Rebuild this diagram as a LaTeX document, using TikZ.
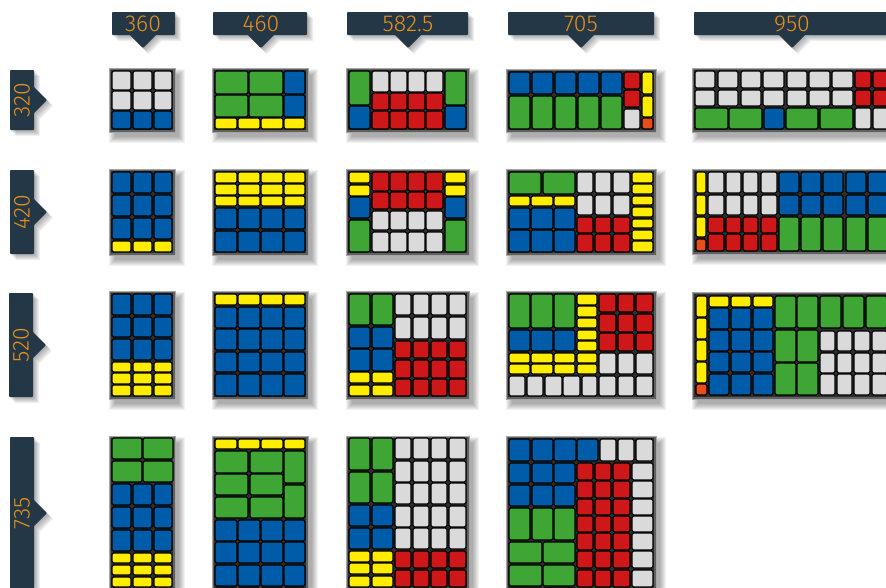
\documentclass[tikz,border=0pt]{standalone}
\usepackage{fontspec}
\newfontfamily\tabfont{Fira Sans Light}
\definecolor{cgrey}{HTML}{DADADA}
\definecolor{cblue}{HTML}{005CA9}
\definecolor{cgreen}{HTML}{3FA535}
\definecolor{cred}{HTML}{CD1719}
\definecolor{cyel}{HTML}{FFED00}
\definecolor{corg}{HTML}{E84E1B}
\definecolor{tabnavy}{HTML}{243746}
\definecolor{taborange}{HTML}{E8901A}
\tikzset{
  cellbox/.style={draw=black, line width=1.1pt, rounded corners=1.6pt},
  panelbox/.style={fill=black!82, draw=black!62, line width=1.6pt},
  paneledge/.style={draw=black!35, line width=0.5pt},
  tabtext/.style={text=taborange, font=\tabfont\fontsize{23}{23}\selectfont, inner sep=0pt},
}
\newcommand\cel[5]{\draw[cellbox,fill=#5] (#1,#2) rectangle (#3,#4);}
\newcommand\grd[3]{\foreach \xa/\xb in {#1}{\foreach \ya/\yb in {#2}{\cel{\xa}{\ya}{\xb}{\yb}{#3}}}}
\newcommand\pnl[4]{%
  \foreach \r in {0,1,2,3,4,5,6}{\fill[black,opacity=.05] ({#1+5-\r},{#2+6-\r}) rectangle ({#3+5+\r},{#4+6+\r});}
  \draw[panelbox] (#1,#2) rectangle (#3,#4);
  \draw[paneledge] ({#1-0.9},{#2-0.9}) rectangle ({#3+0.9},{#4+0.9});}
\newcommand\coltab[5]{%
  \foreach \s in {1,2,3,4,5,6}{\fill[black,opacity=.06,xshift=\s pt,yshift=-\s pt]
    (#1,12) -- (#2,12) -- (#2,35) -- ({#3+13},35) -- (#3,48) -- ({#3-13},35) -- (#1,35) -- cycle;}
  \fill[tabnavy,rounded corners=0.8pt] (#1,12) -- (#2,12) -- (#2,35) -- ({#3+13},35) -- (#3,48) -- ({#3-13},35) -- (#1,35) -- cycle;
  \node[tabtext] (#4) at (#3,23.5) {#5};}
\newcommand\rowtab[6]{%
  \foreach \s in {1,2,3,4,5,6}{\fill[black,opacity=.06,xshift=\s pt,yshift=-\s pt]
    (#1,#3) -- (#2,#3) -- (#2,{#5-13}) -- ({#2+13},#5) -- (#2,{#5+13}) -- (#2,#4) -- (#1,#4) -- cycle;}
  \fill[tabnavy,rounded corners=0.8pt] (#1,#3) -- (#2,#3) -- (#2,{#5-13}) -- ({#2+13},#5) -- (#2,{#5+13}) -- (#2,#4) -- (#1,#4) -- cycle;
  \node[tabtext,rotate=90] (r#6) at ({(#1+#2)/2},#5) {#6};}
\begin{document}
\begin{tikzpicture}[x=1pt,y=-1pt]
\useasboundingbox (0,0) rectangle (886,587);
\clip (0,0) rectangle (886,587);
\fill[white] (0,0) rectangle (886,587);
% column tabs
\coltab{112}{175}{143}{c360}{360}
\coltab{213}{307}{261}{c460}{460}
\coltab{347}{468}{408}{c582}{582.5}
\coltab{508}{654}{581}{c705}{705}
\coltab{694}{900}{792}{c950}{950}
% row tabs
\rowtab{10}{34}{70}{130}{100}{320}
\rowtab{10}{34}{170}{254}{212}{420}
\rowtab{9}{33}{293}{397}{345}{520}
\rowtab{10}{34}{437}{620}{513}{735}
% ===== row 320 =====
\pnl{110}{69}{174}{131}
\grd{112/131,133/152,154/172}{71/90,91/110}{cgrey}
\grd{112/131,133/152,154/172}{111/129}{cblue}
\pnl{213}{69}{307}{131}
\grd{215/248,249/283}{71/94,95/117}{cgreen}
\grd{284/305}{71/94,95/117}{cblue}
\grd{215/237,238/260,261/283,284/305}{118/129}{cyel}
\pnl{347}{69}{468}{131}
\grd{349/370,445/466}{71/105}{cgreen}
\grd{349/370,445/466}{106/129}{cblue}
\grd{372/389,390/407,408/425,426/443}{71/92}{cgrey}
\grd{372/389,390/407,408/425,426/443}{93/110,111/129}{cred}
\pnl{507}{70}{655}{131}
\grd{509/530,532/553,555/576,578/599,601/622}{72/94}{cblue}
\grd{509/530,532/553,555/576,578/599,601/622}{96/129}{cgreen}
\grd{624/640}{72/89,90/107}{cred}
\grd{624/640}{109/129}{cgrey}
\grd{642/653}{72/94,96/117}{cyel}
\grd{642/653}{118/129}{corg}
\pnl{693}{69}{910}{131}
\grd{695/715,718/738,741/761,763/784,787/807,809/830,832/853}{71/88,90/106}{cgrey}
\grd{855/871,873/889}{71/88,90/106}{cred}
\grd{695/728,729/762,786/818,820/853}{108/129}{cgreen}
\grd{764/784}{108/129}{cblue}
\grd{855/871,873/889}{108/129}{cgrey}
% ===== row 420 =====
\pnl{110}{170}{174}{254}
\grd{112/131,133/152,154/172}{172/193,195/216,218/239}{cblue}
\grd{112/131,133/152,154/172}{241/252}{cyel}
\pnl{213}{170}{307}{254}
\grd{215/237,238/260,261/283,284/305}{172/183,184/195,196/206}{cyel}
\grd{215/237,238/260,261/283,284/305}{208/229,231/252}{cblue}
\pnl{347}{170}{468}{254}
\grd{349/370,445/466}{172/183,185/196}{cyel}
\grd{349/370,445/466}{197/218}{cblue}
\grd{349/370,445/466}{220/252}{cgreen}
\grd{372/389,390/407,408/425,426/443}{172/191,192/209}{cred}
\grd{372/389,390/407,408/425,426/443}{211/230,232/252}{cgrey}
\pnl{507}{170}{655}{254}
\grd{509/541,543/575}{172/194}{cgreen}
\grd{509/530,531/553,554/575}{196/206}{cyel}
\grd{509/530,531/553,554/575}{208/229,230/252}{cblue}
\grd{577/593,595/611,613/630}{172/193,195/215}{cgrey}
\grd{577/593,595/611,613/630}{217/233,234/252}{cred}
\grd{632/653}{172/183,184/194,196/205,207/217,219/228,230/240,241/252}{cyel}
\pnl{693}{170}{910}{253}
\grd{696/706}{172/193,195/215,217/237}{cyel}
\grd{696/706}{239/251}{corg}
\grd{708/724,726/741,743/758,761/777}{172/193,195/215}{cgrey}
\grd{708/724,726/741,743/758,761/777}{217/233,234/251}{cred}
\grd{779/799,801/821,823/843,846/866,868/888}{172/193,195/215}{cblue}
\grd{779/799,801/821,823/843,846/866,868/888}{217/251}{cgreen}
% ===== row 520 =====
\pnl{110}{292}{174}{398}
\grd{112/131,133/152,154/172}{294/315,317/337,339/360}{cblue}
\grd{112/131,133/152,154/172}{362/372,373/384,385/396}{cyel}
\pnl{213}{292}{307}{398}
\grd{215/237,238/260,261/283,284/305}{294/305}{cyel}
\grd{215/237,238/260,261/283,284/305}{307/328,329/350,352/372,374/396}{cblue}
\pnl{347}{292}{468}{398}
\grd{349/370,372/393}{294/325}{cgreen}
\grd{349/370,372/393}{327/348,349/371}{cblue}
\grd{349/370,372/393}{372/383,385/396}{cyel}
\grd{395/411,413/429,431/447,449/466}{294/315,317/339}{cgrey}
\grd{395/411,413/429,431/447,449/466}{341/358,360/378,379/396}{cred}
\pnl{507}{292}{655}{398}
\grd{509/530,531/553,554/575}{294/328}{cgreen}
\grd{509/530,531/553,554/575}{330/351}{cblue}
\grd{577/597}{294/305,306/317,318/328,330/340,341/351}{cyel}
\grd{509/530,531/553,554/575,577/597}{353/363,364/374}{cyel}
\grd{599/616,618/634,636/653}{294/312,314/332,333/351}{cred}
\grd{599/616,618/634,636/653}{353/374}{cgrey}
\grd{509/525,527/543,545/562,563/580,582/597,599/616,618/634,636/653}{376/396}{cgrey}
\pnl{693}{293}{910}{398}
\grd{696/707}{296/317,318/339,340/361,362/383}{cyel}
\grd{696/707}{384/395}{corg}
\grd{709/729,731/751,753/773}{296/307}{cyel}
\grd{709/729,731/751,753/773}{308/329,330/351,352/372,374/395}{cblue}
\grd{775/796,797/818}{296/328,330/362,363/395}{cgreen}
\grd{820/841,843/864,866/887}{296/328}{cgreen}
\grd{820/835,837/852,854/870,872/887}{331/351,353/373,374/395}{cgrey}
% ===== row 735 =====
\pnl{110}{437}{174}{620}
\grd{112/142,143/173}{438/459,461/482}{cgreen}
\grd{112/131,133/152,154/172}{484/505,507/528,530/551}{cblue}
\grd{112/131,133/152,154/172}{553/563,565/575,577/587,589/599}{cyel}
\pnl{213}{437}{307}{620}
\grd{215/237,238/260,261/283,284/305}{439/449}{cyel}
\grd{215/248,250/283}{451/473,474/495,497/518}{cgreen}
\grd{284/305}{451/483,485/518}{cgreen}
\grd{215/237,238/260,261/283,284/305}{520/541,542/563,565/586,588/609}{cblue}
\pnl{347}{437}{468}{620}
\grd{349/370,372/393}{438/470,472/503}{cgreen}
\grd{349/370,372/393}{505/526,528/549}{cblue}
\grd{349/370,372/393}{551/562,563/574,576/587,589/600}{cyel}
\grd{395/411,413/429,431/447,449/466}{438/459,461/482,483/504,506/527,528/549}{cgrey}
\grd{395/411,413/429,431/447,449/466}{551/568,570/587,589/606}{cred}
\pnl{507}{437}{655}{620}
\grd{509/530,532/553,554/576,577/598}{439/461}{cblue}
\grd{600/616,618/634,636/653}{439/461}{cgrey}
\grd{509/530,532/553,554/575}{463/483,485/506}{cblue}
\grd{509/530,532/553,554/575}{508/540}{cgreen}
\grd{509/542,543/575}{542/563,565/586,588/609}{cgreen}
\grd{577/593,595/611,613/630}{463/480,481/498,499/515,516/532,533/550,551/568,570/587,589/606}{cred}
\grd{632/653}{463/480,481/498,499/515,516/532,533/550,551/568,570/587,589/606}{cgrey}
\end{tikzpicture}
\end{document}
